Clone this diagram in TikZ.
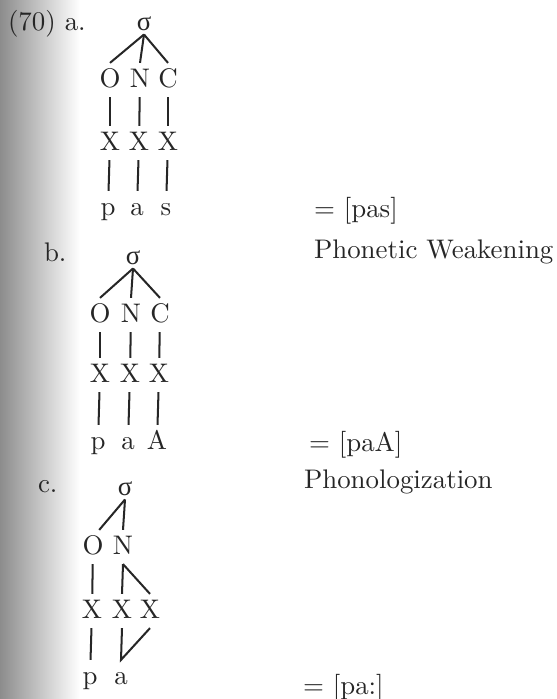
\documentclass[tikz,border=0pt]{standalone}
\usepackage{fontspec}
\newfontfamily\grk{Liberation Serif}
\begin{document}
\begin{tikzpicture}[x=0.372pt,y=-0.372pt,line width=0.75pt,color=black!85,
  seg/.style={inner sep=2pt,text height=1.6ex,text depth=0.25ex},
  sig/.style={inner sep=1pt,font=\grk,text height=1ex,text depth=0pt},
  lab/.style={anchor=west,inner sep=0pt}]
 \useasboundingbox (0,0) rectangle (556,699);
 \shade[left color=black!45,right color=white,draw=none] (0,0) rectangle (80,699);
 \node[lab] (ex) at (7,24) {(70) a.};
 \node[sig] (sa) at (144,25) {σ};
 \foreach \t/\x [count=\i] in {O/110,N/140,C/168}{\node[seg] (ca\i) at (\x,80) {\t};}
 \foreach \x [count=\i] in {110,139,168}{\node[seg] (xa\i) at (\x,143) {X};}
 \foreach \t/\x [count=\i] in {p/108,a/137,s/166}{\node[seg] (ma\i) at (\x,208) {\t};}
 \foreach \i in {1,2,3}{\draw (sa.south) -- (ca\i.north); \draw (ca\i) -- (xa\i); \draw (xa\i) -- (ma\i);}
 \node[lab] (ra) at (313,211) {$=$ [pas]};
 \node[lab] (lb) at (43,252) {b.};
 \node[lab] (wk) at (313,252) {Phonetic Weakening};
 \node[sig] (sb) at (133,259) {σ};
 \foreach \t/\x [count=\i] in {O/100,N/131,C/160}{\node[seg] (cb\i) at (\x,315) {\t};}
 \foreach \x [count=\i] in {100,130,159}{\node[seg] (xb\i) at (\x,375) {X};}
 \foreach \t/\x [count=\i] in {p/98,a/128,A/157}{\node[seg] (mb\i) at (\x,442) {\t};}
 \foreach \i in {1,2,3}{\draw (sb.south) -- (cb\i.north); \draw (cb\i) -- (xb\i); \draw (xb\i) -- (mb\i);}
 \node[lab] (rb) at (308,445) {$=$ [paA]};
 \node[lab] (lc) at (37,487) {c.};
 \node[lab] (ph) at (303,482) {Phonologization};
 \node[sig] (sc) at (125,490) {σ};
 \foreach \t/\x [count=\i] in {O/93,N/123}{\node[seg] (cc\i) at (\x,547) {\t};}
 \foreach \x [count=\i] in {92,122,150}{\node[seg] (xc\i) at (\x,611) {X};}
 \foreach \t/\x [count=\i] in {p/90,a/121}{\node[seg] (mc\i) at (\x,677) {\t};}
 \draw (sc.south) -- (cc1.70); \draw (sc.south) -- (cc2.north);
 \draw (cc1) -- (xc1); \draw (cc2.south) -- (xc2.north); \draw (cc2.south) -- (xc3.north);
 \draw (xc1) -- (mc1); \draw (xc2.south) -- (mc2.north) -- (xc3.south);
 \node[lab] (rc) at (302,688) {$=$ [pa:]};
\end{tikzpicture}
\end{document}
